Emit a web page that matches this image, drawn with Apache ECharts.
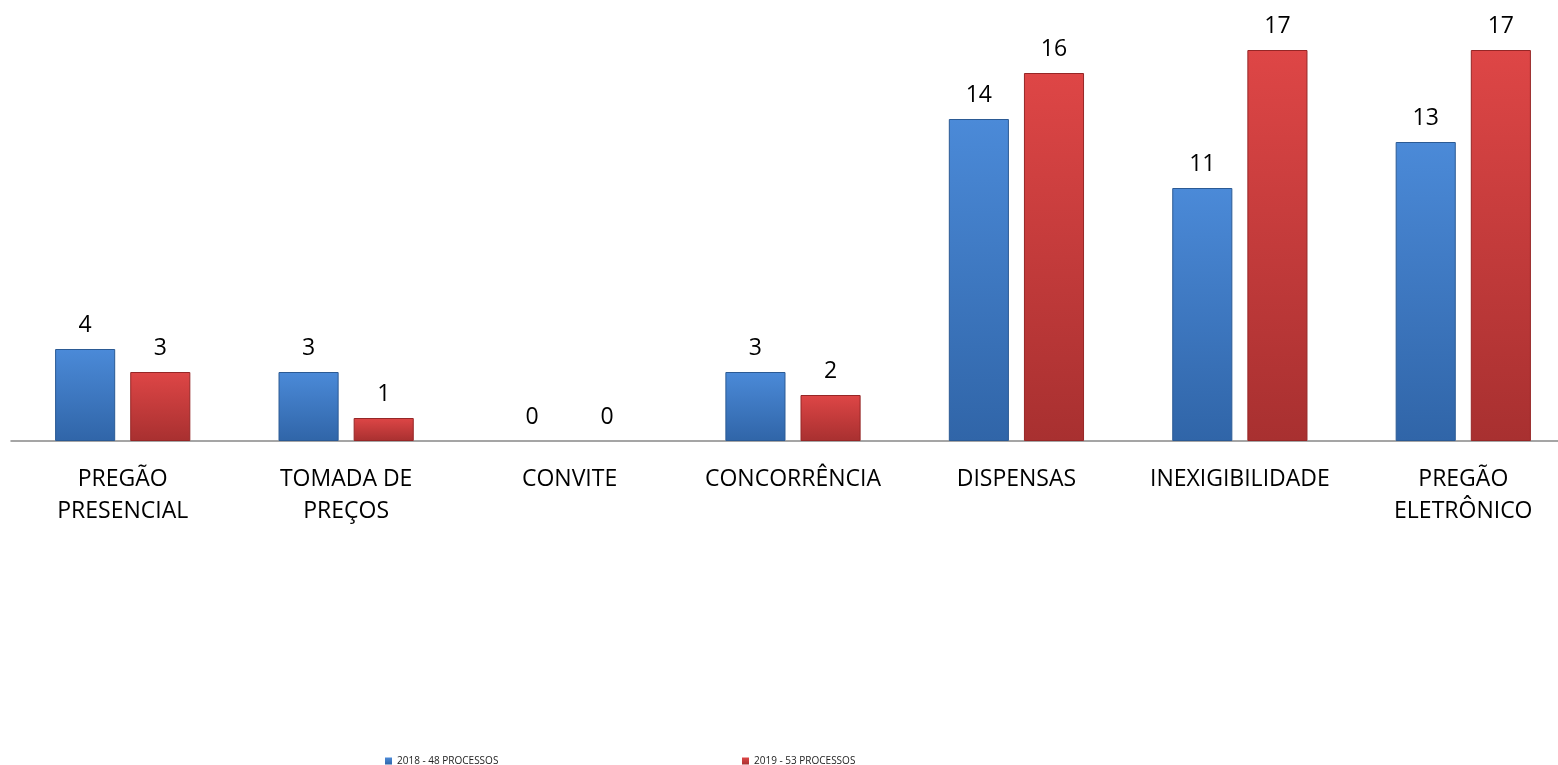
<!DOCTYPE html>
<html><head><meta charset="utf-8">
<script src="https://cdn.jsdelivr.net/npm/echarts@6/dist/echarts.min.js"></script>
<style>html,body{margin:0;padding:0;background:#fff}#c{width:1558px;height:765px}</style>
</head><body><div id="c"></div>
<script>
const categories = ['PREGÃO\nPRESENCIAL','TOMADA DE\nPREÇOS','CONVITE','CONCORRÊNCIA','DISPENSAS','INEXIGIBILIDADE','PREGÃO\nELETRÔNICO'];
const s2018 = [4,3,0,3,14,11,13];
const s2019 = [3,1,0,2,16,17,17];
const name2018 = '2018 - 48 PROCESSOS';
const name2019 = '2019 - 53 PROCESSOS';
const font = 'Open Sans';
function grad(a,b){return new echarts.graphic.LinearGradient(0,0,0,1,[{offset:0,color:a},{offset:1,color:b}]);}
const blueFill = grad('#4b8ad8','#3065a8');
const redFill = grad('#de4646','#a83030');
function items(vals, border){
  return vals.map(v => ({value:v, itemStyle:{borderWidth: v === 0 ? 0 : 1, borderColor: border}}));
}
const chart = echarts.init(document.getElementById('c'));
chart.setOption({
  animation:false,
  textStyle:{fontFamily:font},
  grid:{left:11,width:1564,top:50,height:391,outerBoundsMode:'none',containLabel:false},
  legend:[
    {left:380,top:751,itemWidth:7,itemHeight:7,itemGap:5,data:[name2018],textStyle:{fontSize:10,color:'#222',fontFamily:font}, icon:'rect'},
    {left:737,top:751,itemWidth:7,itemHeight:7,itemGap:5,data:[name2019],textStyle:{fontSize:10,color:'#222',fontFamily:font}, icon:'rect'}
  ],
  xAxis:{type:'category',data:categories,axisTick:{show:false},
    axisLine:{lineStyle:{color:'#888',width:1.5}},
    axisLabel:{fontSize:23,color:'#000',margin:22,lineHeight:32,interval:0,fontFamily:font}},
  yAxis:{type:'value',min:0,max:17,show:false,splitLine:{show:false}},
  series:[
    {name:name2018,type:'bar',data:items(s2018,'#2b5a94'),barWidth:'26.9%',barGap:'25%',
     itemStyle:{color:blueFill},
     label:{show:true,position:'top',distance:12,fontSize:23,color:'#000',fontFamily:font}},
    {name:name2019,type:'bar',data:items(s2019,'#962626'),barWidth:'26.9%',
     itemStyle:{color:redFill},
     label:{show:true,position:'top',distance:12,fontSize:23,color:'#000',fontFamily:font}}
  ]
});
</script></body></html>
